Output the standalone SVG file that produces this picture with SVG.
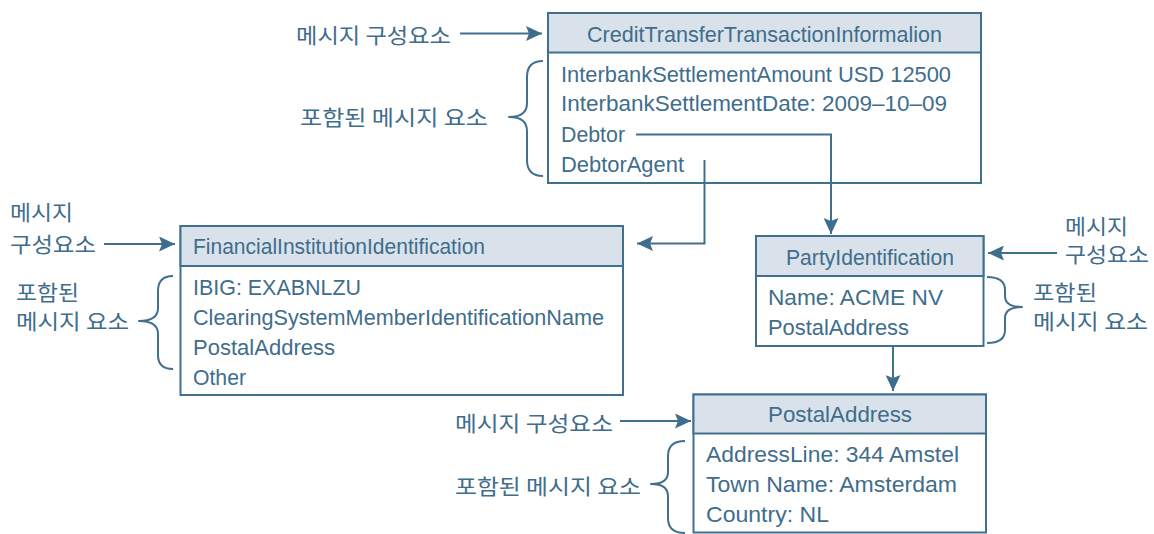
<svg xmlns="http://www.w3.org/2000/svg" width="1154" height="534" viewBox="0 0 1154 534">
  <style>
    .box { fill: #ffffff; stroke: #41708f; stroke-width: 2; }
    .head { fill: #d9e2ea; stroke: #41708f; stroke-width: 2; }
    .t { font-family: "Liberation Sans", Arial, sans-serif; font-size: 22px; fill: #3f6d8c; }
    .ko { font-family: "Noto Sans CJK KR", "Noto Sans", sans-serif; font-size: 21px; fill: #3f6d8c; }
    .wire { fill: none; stroke: #41708f; stroke-width: 2; }
    .brace { fill: none; stroke: #41708f; stroke-width: 2; stroke-linejoin: round; }
  </style>
  <defs>
    <marker id="arrow" markerUnits="userSpaceOnUse" markerWidth="17" markerHeight="15" refX="16" refY="7.5" orient="auto">
      <path d="M0,0 L16,7.5 L0,15 L3,7.5 Z" fill="#3f6d8c"/>
    </marker>
  </defs>

  <rect width="1154" height="534" fill="#ffffff"/>

  <!-- CreditTransferTransactionInformalion -->
  <g id="node-credit-transfer">
    <rect class="box" x="548" y="13" width="433" height="170"/>
    <rect class="head" x="548" y="13" width="433" height="39.5"/>
    <text class="t" x="587" y="42" textLength="355" lengthAdjust="spacingAndGlyphs">CreditTransferTransactionInformalion</text>
    <text class="t" x="561" y="82" textLength="390" lengthAdjust="spacingAndGlyphs">InterbankSettlementAmount USD 12500</text>
    <text class="t" x="561" y="111" textLength="386" lengthAdjust="spacingAndGlyphs">InterbankSettlementDate: 2009–10–09</text>
    <text class="t" x="561" y="142" textLength="64" lengthAdjust="spacingAndGlyphs">Debtor</text>
    <text class="t" x="561" y="172" textLength="123" lengthAdjust="spacingAndGlyphs">DebtorAgent</text>
    <path class="brace" d="M543,61 Q527,61 527,77 L527,103 Q527,117 509,117 Q527,117 527,131 L527,160 Q527,176 543,176"/>
    <text class="ko" x="296" y="43" textLength="155" lengthAdjust="spacingAndGlyphs">메시지 구성요소</text>
    <text class="ko" x="300" y="125" textLength="188" lengthAdjust="spacingAndGlyphs">포함된 메시지 요소</text>
  </g>

  <!-- FinancialInstitutionIdentification -->
  <g id="node-financial-institution">
    <rect class="box" x="180.5" y="226" width="442.5" height="169"/>
    <rect class="head" x="180.5" y="226" width="442.5" height="40"/>
    <text class="t" x="193" y="254" textLength="292" lengthAdjust="spacingAndGlyphs">FinancialInstitutionIdentification</text>
    <text class="t" x="193" y="295" textLength="168" lengthAdjust="spacingAndGlyphs">IBIG: EXABNLZU</text>
    <text class="t" x="193" y="325" textLength="411" lengthAdjust="spacingAndGlyphs">ClearingSystemMemberIdentificationName</text>
    <text class="t" x="193" y="355" textLength="142" lengthAdjust="spacingAndGlyphs">PostalAddress</text>
    <text class="t" x="193" y="385" textLength="53" lengthAdjust="spacingAndGlyphs">Other</text>
    <path class="brace" d="M173,276 Q158,276 158,291 L158,308 Q158,321 139,321 Q158,321 158,334 L158,355 Q158,369 173,369"/>
    <text class="ko" x="10" y="220" textLength="63" lengthAdjust="spacingAndGlyphs">메시지</text>
    <text class="ko" x="10" y="252" textLength="86" lengthAdjust="spacingAndGlyphs">구성요소</text>
    <text class="ko" x="16" y="300" textLength="63" lengthAdjust="spacingAndGlyphs">포함된</text>
    <text class="ko" x="16" y="329" textLength="113" lengthAdjust="spacingAndGlyphs">메시지 요소</text>
  </g>

  <!-- PartyIdentification -->
  <g id="node-party-identification">
    <rect class="box" x="756" y="236" width="227.5" height="110"/>
    <rect class="head" x="756" y="236" width="227.5" height="40"/>
    <text class="t" x="786" y="265" textLength="168" lengthAdjust="spacingAndGlyphs">PartyIdentification</text>
    <text class="t" x="768" y="305" textLength="175" lengthAdjust="spacingAndGlyphs">Name: ACME NV</text>
    <text class="t" x="768" y="335" textLength="141" lengthAdjust="spacingAndGlyphs">PostalAddress</text>
    <path class="brace" d="M987,277 Q1005,277 1005,290 L1005,296 Q1005,307 1022,307 Q1005,307 1005,318 L1005,330 Q1005,343 987,343"/>
    <text class="ko" x="1065" y="234" textLength="63" lengthAdjust="spacingAndGlyphs">메시지</text>
    <text class="ko" x="1065" y="262" textLength="84" lengthAdjust="spacingAndGlyphs">구성요소</text>
    <text class="ko" x="1033" y="300" textLength="64" lengthAdjust="spacingAndGlyphs">포함된</text>
    <text class="ko" x="1033" y="329" textLength="115" lengthAdjust="spacingAndGlyphs">메시지 요소</text>
  </g>

  <!-- PostalAddress -->
  <g id="node-postal-address">
    <rect class="box" x="693.5" y="394.5" width="292.5" height="138"/>
    <rect class="head" x="693.5" y="394.5" width="292.5" height="39"/>
    <text class="t" x="768" y="422" textLength="144" lengthAdjust="spacingAndGlyphs">PostalAddress</text>
    <text class="t" x="706" y="462" textLength="253" lengthAdjust="spacingAndGlyphs">AddressLine: 344 Amstel</text>
    <text class="t" x="706" y="492" textLength="251" lengthAdjust="spacingAndGlyphs">Town Name: Amsterdam</text>
    <text class="t" x="706" y="522" textLength="123" lengthAdjust="spacingAndGlyphs">Country: NL</text>
    <path class="brace" d="M685,441 Q668,441 668,456 L668,472 Q668,484 651,484 Q668,484 668,496 L668,518 Q668,533 685,533"/>
    <text class="ko" x="455" y="431" textLength="158" lengthAdjust="spacingAndGlyphs">메시지 구성요소</text>
    <text class="ko" x="455" y="494" textLength="186" lengthAdjust="spacingAndGlyphs">포함된 메시지 요소</text>
  </g>

  <!-- connectors, drawn over the boxes so the field links start inside them -->
  <g id="connectors">
    <path class="wire" d="M636,134.5 L831,134.5 L831,234" marker-end="url(#arrow)"/>
    <path class="wire" d="M704.5,160 L704.5,243.5 L637,243.5" marker-end="url(#arrow)"/>
    <path class="wire" d="M893,346 L893,391" marker-end="url(#arrow)"/>
    <!-- label pointers -->
    <path class="wire" d="M460,33.5 L542,33.5" marker-end="url(#arrow)"/>
    <path class="wire" d="M104,244 L175,244" marker-end="url(#arrow)"/>
    <path class="wire" d="M1057,253 L988,253" marker-end="url(#arrow)"/>
    <path class="wire" d="M620,421 L691,421" marker-end="url(#arrow)"/>
  </g>
</svg>
